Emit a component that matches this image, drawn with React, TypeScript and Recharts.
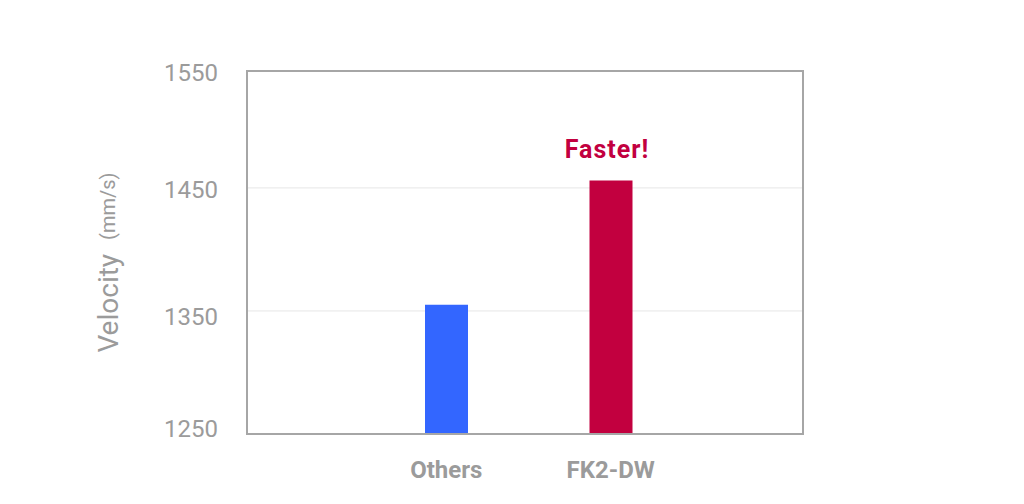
import React from "react";
import { BarChart, Bar, XAxis, YAxis, CartesianGrid, Cell, Label, usePlotArea } from "recharts";

const categories = ["Others", "FK2-DW"];
const velocities = [1355, 1456];
const barColors = ["#3366FF", "#C2003F"];
const annotations = ["", "Faster!"];
const yTickValues = [1250, 1350, 1450, 1545];
const yTickLabels = ["1250", "1350", "1450", "1550"];
const yTickOffsets = [-5, 6, 2, 2];

const data = categories.map((name, i) => ({ name, velocity: velocities[i] }));

const GRAY = "#9B9B9B";
const AXIS = "#A6A6A6";
const FONT = "Roboto, 'DejaVu Sans', sans-serif";

const YTick = (props: any) => {
  const { x, y, payload } = props;
  const i = yTickValues.indexOf(payload.value);
  return (
    <text x={x} y={y + (yTickOffsets[i] ?? 0)} textAnchor="end" dominantBaseline="central"
      fill={GRAY} fontSize={24} fontFamily={FONT}>
      {yTickLabels[i] ?? payload.value}
    </text>
  );
};

const XTick = (props: any) => {
  const { x, y, payload } = props;
  return (
    <text x={x} y={y} dy="0.71em" textAnchor="middle" fill={GRAY} fontSize={24}
      fontWeight="bold" fontFamily={FONT}>
      {payload.value}
    </text>
  );
};

const FasterLabel = (props: any) => {
  const { x, y, width, index } = props;
  const t = annotations[index];
  if (!t) return null;
  return (
    <text x={x + width / 2 - 4} y={y - 31} textAnchor="middle" dominantBaseline="central"
      fill="#C2003F" fontSize={25} fontWeight="bold" fontFamily={FONT} letterSpacing={1}>
      {t}
    </text>
  );
};

const YLabel = (props: any) => {
  const { viewBox } = props;
  const cx = 100;
  const cy = viewBox.y + viewBox.height / 2 + 10;
  return (
    <text x={cx} y={cy} transform={`rotate(-90, ${cx}, ${cy})`} textAnchor="middle"
      dominantBaseline="central" fill={GRAY} fontFamily={FONT}>
      <tspan fontSize={28}>Velocity</tspan>
      <tspan fontSize={20} dx={14}>(mm/s)</tspan>
    </text>
  );
};

const PlotBorder = () => {
  const area = (usePlotArea as any)?.();
  if (!area) return null;
  return (
    <rect x={area.x} y={area.y} width={area.width} height={area.height}
      fill="none" stroke={AXIS} strokeWidth={2} />
  );
};

export default function App() {
  return (
    <div style={{ width: 1008, height: 488, background: "#fff" }}>
      <BarChart width={1008} height={488} data={data}
        margin={{ top: 63, right: 213, bottom: 22, left: 159 }}>
        <CartesianGrid vertical={false} stroke="#E6E6E6" strokeWidth={1} />
        <XAxis dataKey="name" padding={{ left: 117, right: 110 }} tickLine={false}
          axisLine={{ stroke: AXIS, strokeWidth: 2 }} tickSize={0} tickMargin={27}
          height={40} tick={<XTick />} interval={0} />
        <YAxis domain={[1250, 1545]} ticks={yTickValues} allowDataOverflow tickLine={false}
          axisLine={{ stroke: AXIS, strokeWidth: 2 }} tickSize={0} tickMargin={29}
          width={80} tick={<YTick />} interval={0}>
          <Label content={<YLabel />} />
        </YAxis>
        <Bar dataKey="velocity" barSize={43} isAnimationActive={false} label={<FasterLabel />}>
          {data.map((d, i) => (
            <Cell key={d.name} fill={barColors[i]} />
          ))}
        </Bar>
        <PlotBorder />
      </BarChart>
    </div>
  );
}
